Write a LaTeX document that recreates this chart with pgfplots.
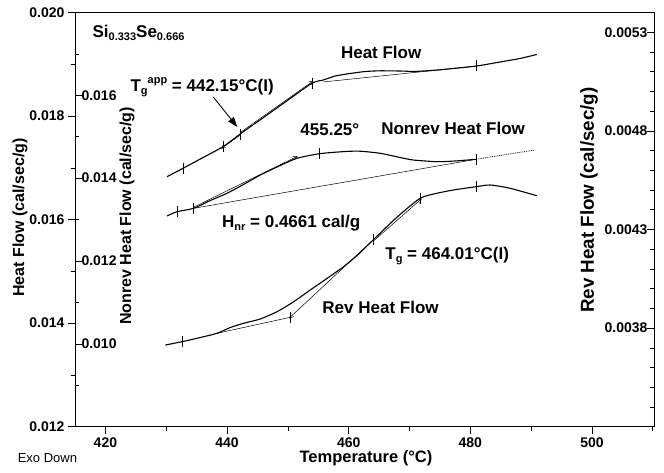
\documentclass[border=0pt]{standalone}
\usepackage{fontspec}
\setmainfont{Liberation Sans}
\usepackage{pgfplots}
\pgfplotsset{compat=1.18}
\usetikzlibrary{arrows.meta}

\newcommand{\fs}[1]{\fontsize{#1}{#1}\selectfont}
\newcommand{\sub}[1]{\raisebox{-0.35ex}{\fs{11}#1}}
\newcommand{\sups}[1]{\raisebox{0.9ex}{\fs{11}#1}}

\pgfplotsset{
  dsc/.style={
    scale only axis, width=579pt, height=414.2pt,
    at={(0pt,0pt)}, anchor=south west,
    xmin=415, xmax=510.2, clip=false,
    major tick length=7pt, minor tick length=4pt,
    every tick/.style={black, line width=0.6pt},
    tick label style={font=\bfseries\fs{14}},
    /pgf/number format/assume math mode=true,
    scaled y ticks=false,
    axis line style={black, line width=0.8pt},
    label style={font=\bfseries},
  },
  curve/.style={black, line width=1.1pt, smooth, tension=0.4},
  cons/.style={black, line width=0.5pt},
  tks/.style={only marks, mark=|, mark size=5.5pt, mark options={black, line width=0.7pt}},
  barb/.style={cons, -{Straight Barb[length=4pt,width=4pt]}},
}

\begin{document}
\begin{tikzpicture}
\path[use as bounding box] (-75pt,-45.3pt) rectangle (589pt,426.7pt);

% ---------------- total heat flow (left axis) ----------------
\begin{axis}[dsc,
  ymin=0.012, ymax=0.020,
  ytick={0.012,0.014,0.016,0.018,0.020},
  minor ytick={0.013,0.015,0.017,0.019},
  xtick={420,440,460,480,500},
  minor xtick={430,450,470,490,510},
  tick align=outside, xtick pos=bottom, ytick pos=left,
  y tick label style={/pgf/number format/fixed,
    /pgf/number format/fixed zerofill, /pgf/number format/precision=3},
  x tick label style={/pgf/number format/fixed, /pgf/number format/precision=0},
  ylabel={\fs{16}Heat Flow (cal/sec/g)},
  ylabel style={at={(axis description cs:-0.095,0.505)}, anchor=center},
  xlabel={\fs{16.5}Temperature (°C)},
  xlabel style={at={(axis description cs:0.5026,-0.0756)}, anchor=center},
]
\addplot[curve] coordinates {
  (430.14,0.016829) (432.76,0.016991) (435.61,0.017171) (439.33,0.017408)
  (442.15,0.017653) (445.46,0.017928) (449.57,0.018271) (453.95,0.018633)
  (455.81,0.018696) (457.78,0.018774) (460.25,0.018822) (462.71,0.018860)
  (465.17,0.018874) (468.46,0.018870) (470.92,0.018862) (474.21,0.018886)
  (477.49,0.018922) (481.06,0.018967) (484.89,0.019044) (488.17,0.019112)
  (490.92,0.019189)
};
% onset construction
\addplot[cons] coordinates {(455.81,0.018658) (481.06,0.018967)};
\addplot[barb] coordinates {(442.15,0.017630) (439.00,0.017370)};
\addplot[barb] coordinates {(442.15,0.017680) (454.20,0.018680)};
\addplot[tks] coordinates {
  (432.76,0.016991) (439.33,0.017408) (442.15,0.017653)
  (453.95,0.018633) (481.06,0.018967)
};

\node[anchor=west, inner sep=0pt, font=\bfseries\fs{17}]
  at (axis cs:417.86,0.019604) {Si\sub{0.333}Se\sub{0.666}};
\node[inner sep=0pt, font=\bfseries\fs{17}]
  at (axis cs:465.34,0.019237) {Heat Flow};
\node[anchor=west, inner sep=0pt, font=\bfseries\fs{17}]
  at (axis cs:424.11,0.018561) {T\sub{g}\sups{app} = 442.15°C(I)};
\draw[line width=0.9pt, -{Triangle[length=10pt,width=7pt]}]
  (axis cs:437.74,0.018368) -- (axis cs:441.68,0.017789);
\node[anchor=west, inner sep=0pt, font=\bfseries\fs{17}]
  at (axis cs:452.03,0.017731) {455.25°};
\node[inner sep=0pt, font=\bfseries\fs{17}]
  at (axis cs:477.17,0.017769) {Nonrev Heat Flow};
\node[anchor=west, inner sep=0pt, font=\bfseries\fs{17}]
  at (axis cs:439.17,0.015940) {H\sub{nr} = 0.4661 cal/g};
\node[anchor=west, inner sep=0pt, font=\bfseries\fs{17}]
  at (axis cs:466.0,0.015297) {T\sub{g} = 464.01°C(I)};
\node[anchor=west, inner sep=0pt, font=\bfseries\fs{17}]
  at (axis cs:455.65,0.014312) {Rev Heat Flow};
\node[inner sep=0pt, font=\fs{13}]
  at (axis cs:410.47,0.011396) {Exo Down};
\end{axis}

% ---------------- non-reversing heat flow (inner left axis) ----------------
\begin{axis}[dsc,
  ymin=0.008, ymax=0.018,
  hide x axis, axis y line*=left,
  ytick={0.010,0.012,0.014,0.016},
  minor ytick={0.009,0.011,0.013,0.015,0.017},
  tick align=inside,
  y tick label style={anchor=west, xshift=3pt,
    /pgf/number format/fixed, /pgf/number format/fixed zerofill,
    /pgf/number format/precision=3},
  ylabel={\fs{16}Nonrev Heat Flow (cal/sec/g)},
  ylabel style={at={(axis description cs:0.0898,0.509)}, anchor=center},
]
\addplot[curve] coordinates {
  (430.14,0.013087) (431.78,0.013191) (434.51,0.013273) (437.25,0.013461)
  (439.99,0.013635) (443.00,0.013872) (445.46,0.014077) (448.75,0.014306)
  (451.49,0.014480) (455.25,0.014592) (459.43,0.014644)
  (461.89,0.014651) (465.17,0.014601) (468.46,0.014499) (470.60,0.014439)
  (474.49,0.014398) (477.49,0.014415) (480.95,0.014456)
};
\addplot[black, line width=0.8pt, densely dotted, smooth] coordinates {
  (480.95,0.014456) (485.38,0.014560) (490.64,0.014680)
};
% baseline and tangent used for the enthalpy
\addplot[cons] coordinates {(434.51,0.013273) (480.95,0.014456)};
\addplot[barb] coordinates {(434.51,0.013300) (451.60,0.014530)};
\addplot[tks] coordinates {
  (431.78,0.013191) (434.51,0.013273) (455.25,0.014592) (480.95,0.014456)
};
\end{axis}

% ---------------- reversing heat flow (right axis) ----------------
\begin{axis}[dsc,
  ymin=0.0033, ymax=0.0054,
  hide x axis, axis y line*=right,
  ytick={0.0038,0.0043,0.0048,0.0053},
  minor ytick={0.0034,0.0035,0.0036,0.0037,0.0039,0.0040,0.0041,0.0042,
               0.0044,0.0045,0.0046,0.0047,0.0049,0.0050,0.0051,0.0052},
  tick align=inside,
  y tick label style={anchor=east, xshift=-3pt,
    /pgf/number format/fixed, /pgf/number format/fixed zerofill,
    /pgf/number format/precision=4},
  ylabel={\fs{18.8}Rev Heat Flow (cal/sec/g)},
  ylabel style={at={(axis description cs:0.8877,0.547)}, anchor=center},
]
\addplot[curve] coordinates {
  (429.86,0.0037142) (432.60,0.0037310) (435.61,0.0037523) (438.35,0.0037735)
  (440.53,0.0038029) (442.72,0.0038243) (445.46,0.0038460) (448.21,0.0038830)
  (450.88,0.0039322) (453.68,0.0039931) (456.42,0.0040514) (459.15,0.0041112)
  (461.56,0.0041731) (464.01,0.0042466) (467.97,0.0043632) (471.75,0.0044580)
  (474.49,0.0044833) (477.22,0.0045001) (480.95,0.0045168) (483.25,0.0045254)
  (486.53,0.0045087) (490.92,0.0044712)
};
% glass transition construction
\addplot[cons] coordinates {(438.35,0.0037735) (450.39,0.0038547)};
\addplot[barb] coordinates {(464.01,0.0042466) (450.20,0.0038500)};
\addplot[barb] coordinates {(464.01,0.0042400) (472.00,0.0044560)};
\addplot[tks] coordinates {
  (432.60,0.0037310) (450.39,0.0038547) (464.01,0.0042466)
  (471.75,0.0044580) (480.95,0.0045168)
};
\end{axis}
\end{tikzpicture}
\end{document}
